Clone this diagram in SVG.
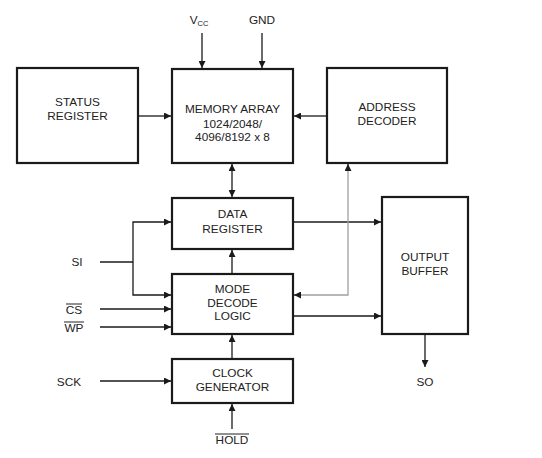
<svg xmlns="http://www.w3.org/2000/svg" width="542" height="458" viewBox="0 0 542 458">
<style>
.box{fill:#fff;stroke:#1a1a1a;stroke-width:2.2}
.t{font-family:"Liberation Sans",Arial,sans-serif;font-size:11.8px;fill:#222;text-anchor:middle;dominant-baseline:central}
.w{stroke:#1a1a1a;stroke-width:1.3;fill:none}
.g{stroke:#a0a0a0;stroke-width:1.3;fill:none}
.ov{stroke:#222;stroke-width:1}
</style>
<defs>
<marker id="a" viewBox="0 0 10 10" refX="10" refY="5" markerWidth="7" markerHeight="7" markerUnits="userSpaceOnUse" orient="auto-start-reverse">
<path d="M0,0 L10,5 L0,10 Z" fill="#1a1a1a"/>
</marker>
</defs>
<rect width="542" height="458" fill="#fff"/>
<g id="connectors">
<line class="w" x1="202" y1="33" x2="202" y2="68" marker-end="url(#a)"/>
<line class="w" x1="262" y1="33" x2="262" y2="68" marker-end="url(#a)"/>
<line class="w" x1="139" y1="116" x2="171" y2="116" marker-end="url(#a)"/>
<line class="w" x1="326" y1="116" x2="294" y2="116" marker-end="url(#a)"/>
<line class="w" x1="232" y1="164" x2="232" y2="197" marker-start="url(#a)" marker-end="url(#a)"/>
<line class="w" x1="232" y1="273" x2="232" y2="250" marker-end="url(#a)"/>
<line class="w" x1="232" y1="359" x2="232" y2="335" marker-end="url(#a)"/>
<line class="w" x1="232" y1="429" x2="232" y2="404" marker-end="url(#a)"/>
<polyline class="w" points="100,262 133,262"/>
<polyline class="w" points="171,222 133,222 133,295 171,295" marker-start="url(#a)" marker-end="url(#a)"/>
<line class="w" x1="100" y1="309" x2="171" y2="309" marker-end="url(#a)"/>
<line class="w" x1="100" y1="327" x2="171" y2="327" marker-end="url(#a)"/>
<line class="w" x1="100" y1="381" x2="171" y2="381" marker-end="url(#a)"/>
<line class="w" x1="294" y1="222" x2="381" y2="222" marker-end="url(#a)"/>
<line class="w" x1="294" y1="316" x2="381" y2="316" marker-end="url(#a)"/>
<polyline class="g" points="300,295 348,295 348,170"/>
<line class="w" x1="348" y1="170" x2="348" y2="164" marker-end="url(#a)"/>
<line class="w" x1="301" y1="295" x2="294" y2="295" marker-end="url(#a)"/>
<line class="w" x1="425" y1="335" x2="425" y2="367" marker-end="url(#a)"/>
</g>
<g id="labels">
<text class="t" x="199" y="20">V<tspan font-size="7.5" dy="3">CC</tspan></text>
<text class="t" x="262" y="20">GND</text>
<text class="t" x="77" y="262">SI</text>
<text class="t" x="74" y="310">CS</text>
<line class="ov" x1="66" y1="304" x2="82" y2="304"/>
<text class="t" x="74" y="328">WP</text>
<line class="ov" x1="64" y1="322" x2="84" y2="322"/>
<text class="t" x="69" y="382">SCK</text>
<text class="t" x="232" y="440">HOLD</text>
<line class="ov" x1="215" y1="434" x2="249" y2="434"/>
<text class="t" x="425" y="382">SO</text>
</g>
<g id="status-register">
<rect class="box" x="17" y="68" width="121" height="95"/>
<text class="t" x="77.5" y="102">STATUS</text>
<text class="t" x="77.5" y="116">REGISTER</text>
</g>
<g id="memory-array">
<rect class="box" x="172" y="69" width="121" height="94"/>
<text class="t" x="232.5" y="109">MEMORY ARRAY</text>
<text class="t" x="232.5" y="124">1024/2048/</text>
<text class="t" x="232.5" y="137">4096/8192 x 8</text>
</g>
<g id="address-decoder">
<rect class="box" x="327" y="68" width="120" height="95"/>
<text class="t" x="387" y="107">ADDRESS</text>
<text class="t" x="387" y="121">DECODER</text>
</g>
<g id="data-register">
<rect class="box" x="172" y="198" width="121" height="51"/>
<text class="t" x="232.5" y="214">DATA</text>
<text class="t" x="232.5" y="229">REGISTER</text>
</g>
<g id="mode-decode-logic">
<rect class="box" x="172" y="274" width="121" height="60"/>
<text class="t" x="232.5" y="289">MODE</text>
<text class="t" x="232.5" y="303">DECODE</text>
<text class="t" x="232.5" y="316">LOGIC</text>
</g>
<g id="clock-generator">
<rect class="box" x="172" y="359" width="121" height="44"/>
<text class="t" x="232.5" y="373">CLOCK</text>
<text class="t" x="232.5" y="387">GENERATOR</text>
</g>
<g id="output-buffer">
<rect class="box" x="382" y="197" width="86" height="137"/>
<text class="t" x="425" y="257">OUTPUT</text>
<text class="t" x="425" y="271">BUFFER</text>
</g>
</svg>
